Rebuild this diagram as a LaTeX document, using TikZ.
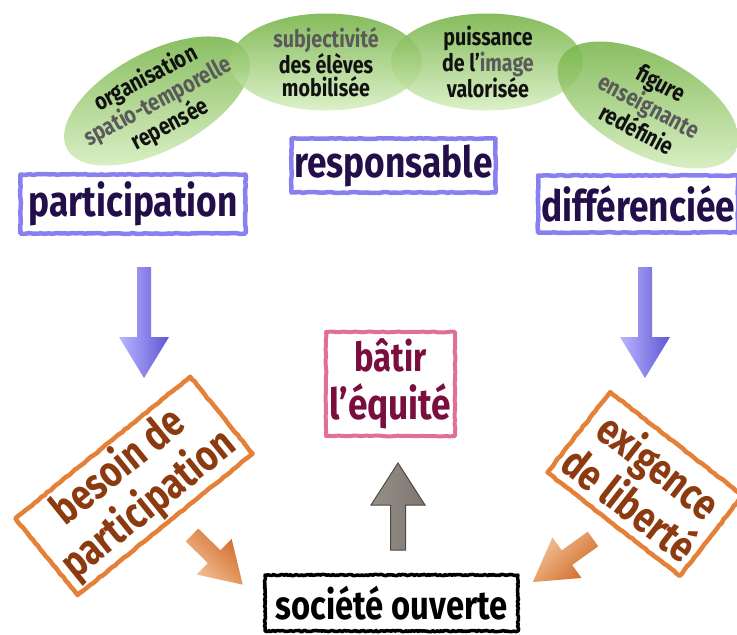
\documentclass[tikz,border=0pt]{standalone}
\usepackage{fontspec}
\newfontfamily\hand{Fira Sans}[FakeStretch=0.82]
\usetikzlibrary{shapes.geometric,decorations.pathmorphing}
\definecolor{bluebd}{RGB}{136,128,240}
\definecolor{indigot}{RGB}{34,14,72}
\definecolor{orangebd}{RGB}{228,128,56}
\definecolor{brownt}{RGB}{140,58,16}
\definecolor{pinkbd}{RGB}{226,112,150}
\definecolor{maroont}{RGB}{122,14,62}
\definecolor{gtop}{RGB}{112,176,64}
\definecolor{gbot}{RGB}{214,238,190}
\definecolor{txtgray}{RGB}{90,90,90}
\definecolor{txtblack}{RGB}{17,17,17}
\definecolor{bluelight}{RGB}{184,182,255}
\definecolor{bluedark}{RGB}{96,86,212}
\definecolor{ordark}{RGB}{208,106,40}
\definecolor{orlight}{RGB}{245,196,154}
\definecolor{graydark}{RGB}{78,73,68}
\definecolor{graymid}{RGB}{125,119,111}
\definecolor{graylt}{RGB}{150,144,136}
\newcommand{\bigtxt}{\hand\bfseries\fontsize{43}{48}\selectfont}
\newcommand{\smalltxt}{\hand\bfseries\fontsize{24}{23}\selectfont}
\newcommand{\blockarrow}[8]{%
  \path[#1, shift={(#2,#3)}, rotate=#4]
    (0,-#6) -- (#5-#8,-#6) -- (#5-#8,-#7) -- (#5,0) -- (#5-#8,#7) -- (#5-#8,#6) -- (0,#6) -- cycle;}
\begin{document}
\begin{tikzpicture}[x=1pt,y=-1pt,
  blob/.style={ellipse, top color=gtop, bottom color=gbot, fill opacity=0.85, inner sep=0pt},
  blobtext/.style={align=center, inner sep=0pt, text=txtblack, font=\smalltxt},
  boxbase/.style={line width=4.5pt, line join=round, fill=white, inner sep=0pt, align=center, font=\bigtxt,
    decorate, decoration={random steps, segment length=4pt, amplitude=0.5pt}},
  bluebox/.style={boxbase, draw=bluebd, text=indigot},
  orangebox/.style={boxbase, draw=orangebd, text=brownt},
  pinkbox/.style={boxbase, draw=pinkbd, text=maroont, line width=4pt},
  blackbox/.style={line width=3.5pt, line join=round, draw=black, fill=white, inner sep=0pt, text=black,
    font=\hand\bfseries\fontsize{40}{44}\selectfont,
    decorate, decoration={random steps, segment length=1.5pt, amplitude=0.7pt}},
  bluearrow/.style={left color=bluelight, right color=bluedark},
  grayarrow/.style={draw=graydark, line width=1pt, left color=graylt, right color=graymid},
  orarrowL/.style={top color=ordark, bottom color=orlight, shading angle=-45},
  orarrowR/.style={top color=orlight, bottom color=ordark, shading angle=45}
]
\useasboundingbox (0,0) rectangle (737,635);

% ellipses
\node[blob, rotate=28, minimum width=204pt, minimum height=98pt] (e1) at (157,101) {};
\node[blob, minimum width=192pt, minimum height=97pt] (e2) at (326,62) {};
\node[blob, minimum width=192pt, minimum height=97pt] (e3) at (487,62) {};
\node[blob, rotate=-28, minimum width=198pt, minimum height=98pt] (e4) at (648,105) {};

\node[blobtext, rotate=28] (t1) at (158,102) {organisation\\{\color{txtgray}spatio-temporelle}\\repensée};
\node[blobtext] (t2) at (326,62) {{\color{txtgray}subjectivité}\\des élèves\\mobilisée};
\node[blobtext] (t3) at (488,62) {puissance\\de l’{\color{txtgray}image}\\valorisée};
\node[blobtext, rotate=-28] (t4) at (649,106) {figure\\{\color{txtgray}enseignante}\\redéfinie};

% blue boxes
\node[bluebox, minimum width=225pt, minimum height=59pt] (part) at (133,204) {participation};
\node[bluebox, minimum width=204pt, minimum height=54pt] (resp) at (393.5,165.5) {responsable};
\node[bluebox, minimum width=200pt, minimum height=57pt] (diff) at (638,204) {différenciée};

% blue arrows
\blockarrow{bluearrow}{144}{267}{-90}{111}{7}{25}{41}
\blockarrow{bluearrow}{645}{267}{-90}{111}{7}{25}{41}

% centre box
\node[pinkbox, minimum width=129pt, minimum height=104pt] (equite) at (390.5,384) {\fontsize{40}{42}\selectfont bâtir\\l’équité};

% rotated orange boxes
\node[orangebox, rotate=39, minimum width=225pt, minimum height=99pt] (besoin) at (134,486) {besoin de\\participation};
\node[orangebox, rotate=-38, minimum width=168pt, minimum height=102pt] (exig) at (645,484) {exigence\\de liberté};

% gray arrow
\blockarrow{grayarrow}{398}{550}{90}{87}{7.5}{27}{42}

% orange arrows
\blockarrow{orarrowL}{192}{535}{-44.4}{71}{9}{25}{40}
\blockarrow{orarrowR}{593}{539}{-144.4}{74}{9}{25}{42}

% bottom box
\node[blackbox, minimum width=253pt, minimum height=56pt] (soc) at (391.5,603) {société ouverte};
\end{tikzpicture}
\end{document}
